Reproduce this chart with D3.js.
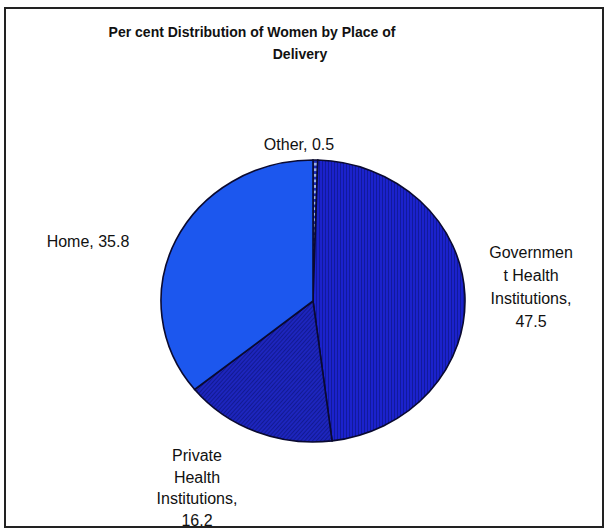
<!DOCTYPE html>
<html><head><meta charset="utf-8">
<script src="https://cdn.jsdelivr.net/npm/d3@7"></script>
<style>body{margin:0;background:#fff}svg{display:block}text{font-family:"Liberation Sans",Arial,sans-serif}</style>
</head><body>
<svg id="c" width="606" height="529"></svg>
<script>
const categories = ["Other", "Government Health Institutions", "Private Health Institutions", "Home"];
const values = [0.5, 47.5, 16.2, 35.8];
const labelLines = [
  ["Other, 0.5"],
  ["Governmen", "t Health", "Institutions,", "47.5"],
  ["Private", "Health", "Institutions,", "16.2"],
  ["Home, 35.8"]
];
const titleLines = ["Per cent Distribution of Women by Place of", "Delivery"];

const svg = d3.select("#c");
const defs = svg.append("defs");
const pGov = defs.append("pattern").attr("id","pGov").attr("patternUnits","userSpaceOnUse").attr("width",3).attr("height",3);
pGov.append("rect").attr("width",3).attr("height",3).attr("fill","#1b22cc");
pGov.append("rect").attr("width",1).attr("height",3).attr("fill","#111a9c");
const pPriv = defs.append("pattern").attr("id","pPriv").attr("patternUnits","userSpaceOnUse").attr("width",3).attr("height",3).attr("patternTransform","rotate(40)");
pPriv.append("rect").attr("width",3).attr("height",3).attr("fill","#1d25bd");
pPriv.append("rect").attr("width",1).attr("height",3).attr("fill","#121a92");
const pOther = defs.append("pattern").attr("id","pOther").attr("patternUnits","userSpaceOnUse").attr("width",4).attr("height",6);
pOther.append("rect").attr("width",4).attr("height",6).attr("fill","#1a2ab8");
pOther.append("rect").attr("y",1).attr("width",4).attr("height",3).attr("fill","#9bb0e8");
const fills = ["url(#pOther)", "url(#pGov)", "url(#pPriv)", "#1c57ee"];

// frame
svg.append("rect").attr("x",5).attr("y",8).attr("width",598).attr("height",519)
  .attr("fill","none").attr("stroke","#222").attr("stroke-width",2);

// title
svg.append("text").attr("x",252).attr("y",37).attr("text-anchor","middle")
  .attr("font-size",14).attr("font-weight","bold").attr("fill","#111").text(titleLines[0]);
svg.append("text").attr("x",300).attr("y",59).attr("text-anchor","middle")
  .attr("font-size",14).attr("font-weight","bold").attr("fill","#111").text(titleLines[1]);

const cx = 313, cy = 301, rx = 152, ry = 141;
const pie = d3.pie().sort(null).value(d => d)(values);
const arc = d3.arc().innerRadius(0).outerRadius(rx);
const g = svg.append("g").attr("transform", `translate(${cx},${cy}) scale(1,${ry/rx})`);
g.selectAll("path").data(pie).join("path")
  .attr("d", arc)
  .attr("fill", (d,i) => fills[i])
  .attr("stroke", "#0a0a30")
  .attr("stroke-width", 1.6)
  .attr("vector-effect","non-scaling-stroke");

// labels
const labelPos = [
  {x:299, y:150, lh:0},
  {x:531, y:258, lh:23},
  {x:197, y:461, lh:21.5},
  {x:88, y:247, lh:0}
];
labelLines.forEach((lines, i) => {
  const t = svg.append("text").attr("text-anchor", "middle")
    .attr("font-size", 16).attr("fill", "#111");
  lines.forEach((l, j) => {
    t.append("tspan").attr("x", labelPos[i].x).attr("y", labelPos[i].y + j*labelPos[i].lh).text(l);
  });
});
</script>
</body></html>
